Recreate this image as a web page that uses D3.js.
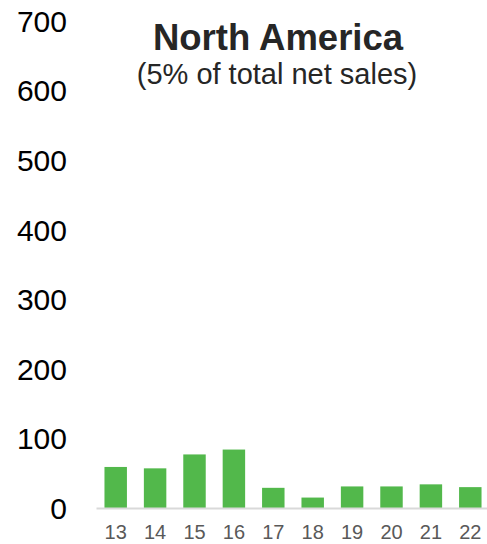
<!DOCTYPE html>
<html>
<head>
<meta charset="utf-8">
<script src="https://cdn.jsdelivr.net/npm/d3@7"></script>
<style>
  body { margin: 0; background: #fff; }
  text { font-family: "Liberation Sans", Arial, sans-serif; }
</style>
</head>
<body>
<svg id="chart" width="487" height="544"></svg>
<script>
// values (net sales, North America)
const years = ["13", "14", "15", "16", "17", "18", "19", "20", "21", "22"];
const sales = [59, 57, 77, 84, 29, 15, 31, 31, 34, 30];
const yTicks = [0, 100, 200, 300, 400, 500, 600, 700];

const svg = d3.select("#chart");

const x = d3.scaleBand(years, [96, 490]).paddingInner(0.43).paddingOuter(0.215);
const y = d3.scaleLinear([0, 700], [508, 21]);

// y labels, no axis line
svg.append("g")
  .selectAll("text")
  .data(yTicks)
  .join("text")
    .attr("x", 67)
    .attr("y", d => y(d))
    .attr("dy", "0.36em")
    .attr("text-anchor", "end")
    .attr("fill", "#000")
    .style("font-size", "30px")
    .text(d => d);

svg.append("g")
  .selectAll("rect")
  .data(sales)
  .join("rect")
    .attr("x", (d, i) => x(years[i]))
    .attr("y", d => y(d))
    .attr("width", x.bandwidth())
    .attr("height", d => y(0) - y(d))
    .attr("fill", "#52b84b");

// baseline + year labels
const xAxis = svg.append("g")
  .attr("transform", `translate(0,${y(0)})`)
  .call(d3.axisBottom(x).tickSize(0).tickPadding(17));
xAxis.select(".domain").attr("stroke", "#d9d9d9").attr("stroke-width", 2);
xAxis.selectAll("text")
  .attr("fill", "#595959")
  .style("font-size", "20px")
  .style("font-family", "Liberation Sans, Arial, sans-serif");

svg.append("text")
  .attr("x", 278).attr("y", 50)
  .attr("text-anchor", "middle")
  .attr("fill", "#262626")
  .style("font-size", "36.5px")
  .style("font-weight", "bold")
  .text("North America");

svg.append("text")
  .attr("x", 277).attr("y", 84)
  .attr("text-anchor", "middle")
  .attr("fill", "#262626")
  .style("font-size", "29px")
  .text("(5% of total net sales)");
</script>
</body>
</html>
